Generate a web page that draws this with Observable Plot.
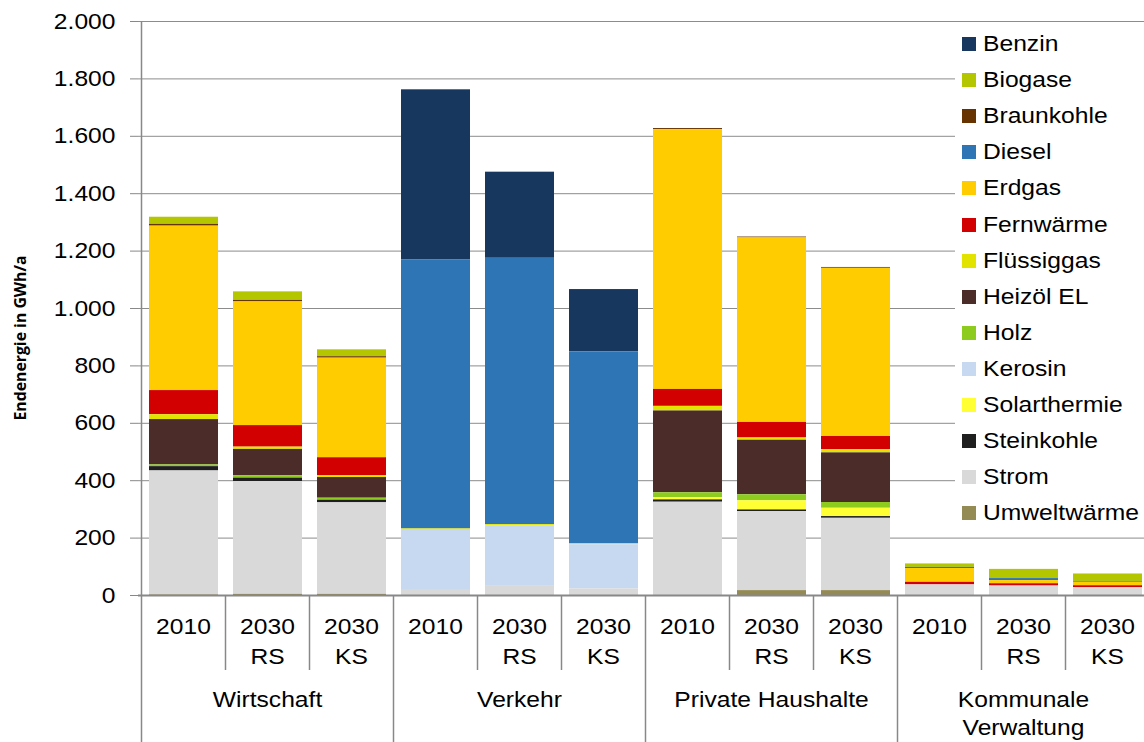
<!DOCTYPE html>
<html><head><meta charset="utf-8">
<script src="https://cdn.jsdelivr.net/npm/d3@7"></script>
<script src="https://cdn.jsdelivr.net/npm/@observablehq/plot@0.6"></script>
<style>
html,body{margin:0;padding:0;background:#fff;overflow:hidden;width:1144px;height:742px}
#wrap{position:relative;width:1144px;height:742px;overflow:hidden}
#chart svg{max-width:none !important}
#legend{position:absolute;left:955px;top:24px;width:200px;height:508px;background:#fff;font-family:"Liberation Sans",Arial,sans-serif;font-size:22px;color:#000}
.item{position:absolute;left:0;height:36px;line-height:36px;white-space:nowrap}
.sw{position:absolute;left:7px;top:11px;width:14px;height:14px}
.lbl{position:absolute;left:28px;top:0;transform:scaleX(1.12);transform-origin:0 50%}
#ytitle{position:absolute;left:20px;top:338px;transform:translate(-50%,-50%) rotate(-90deg);font-family:"Open Sans",sans-serif;font-weight:700;font-size:15.8px;white-space:nowrap;color:#000}
</style>
</head><body>
<div id="wrap"><div id="chart"></div><div id="legend"></div><div id="ytitle"></div></div>
<script>
// categories (x)
const categories = ["W2010","WRS","WKS","V2010","VRS","VKS","P2010","PRS","PKS","K2010","KRS","KKS"];
const yearLabels = ["2010","2030\nRS","2030\nKS","2010","2030\nRS","2030\nKS","2010","2030\nRS","2030\nKS","2010","2030\nRS","2030\nKS"];
const groupLabels = ["Wirtschaft","Verkehr","Private Haushalte","Kommunale\nVerwaltung"];
const yTicks = [0,200,400,600,800,1000,1200,1400,1600,1800,2000];
const yTitle = "Endenergie in GWh/a";

// legend order (top to bottom)
const carriers = ["Benzin","Biogase","Braunkohle","Diesel","Erdgas","Fernwärme","Flüssiggas","Heizöl EL","Holz","Kerosin","Solarthermie","Steinkohle","Strom","Umweltwärme"];
const colors = ["#17375E","#B3C600","#663300","#2E75B6","#FFCC00","#D20000","#E3E300","#4B2C28","#8DCC1E","#C6D9F0","#FFFF33","#1F1F1F","#D9D9D9","#948A54"];

// values in GWh/a, per category (same order as categories)
const benzin      = [0,0,0, 592,300,217, 0,0,0, 0,0,0];
const biogase     = [25,30,24, 0,0,0, 0,0,0, 12,32,26];
const braunkohle  = [6,5,5, 0,0,0, 4,3,3, 0,0,0];
const diesel      = [0,0,0, 938,928,669, 0,0,0, 4,7,3];
const erdgas      = [573,431,347, 0,0,0, 905,643,586, 48,11,12];
const fernwaerme  = [84,75,62, 0,0,0, 59,54,46, 9,8,7];
const fluessiggas = [17,8,7, 2,5,3, 16,8,11, 0,0,0];
const heizoel     = [158,92,72, 0,0,0, 285,190,173, 0,0,0];
const holz        = [6,8,7, 0,0,0, 17,21,20, 0,0,0];
const kerosin     = [0,0,0, 209,210,154, 0,0,0, 0,0,0];
const solar       = [0,0,0, 0,0,0, 8,32,29, 0,0,0];
const steinkohle  = [15,12,9, 0,0,0, 8,6,6, 0,0,0];
const strom       = [432,393,319, 21,32,23, 325,275,252, 37,33,27];
const umwelt      = [2,4,4, 0,0,0, 0,17,17, 0,0,0];

const series = [benzin,biogase,braunkohle,diesel,erdgas,fernwaerme,fluessiggas,heizoel,holz,kerosin,solar,steinkohle,strom,umwelt];
const rows = [];
carriers.forEach((c, j) => categories.forEach((cat, i) => rows.push({cat, carrier: c, value: series[j][i]})));
const stackOrder = carriers.slice().reverse();

const fmt = d => d3.format(",")(d).replace(/,/g, ".");

const separators = (index, scales, values, dims) => {
  const x = scales.x;
  const bw = x.bandwidth ? x.bandwidth() : (dims.width - dims.marginLeft - dims.marginRight) / categories.length;
  const y0 = scales.y(0);
  const g = d3.create("svg:g").attr("stroke", "#888").attr("stroke-width", 1.5).attr("fill", "none");
  categories.forEach((c, i) => {
    const px = Math.round(x(c)) + 0.5;
    const isGroup = i % 3 === 0;
    g.append("line").attr("x1", px).attr("x2", px)
      .attr("y1", i === 0 ? dims.marginTop : y0)
      .attr("y2", isGroup ? dims.height : y0 + 75);
  });
  const pr = x(categories[categories.length - 1]) + bw - 1;
  g.append("line").attr("x1", pr).attr("x2", pr).attr("y1", y0).attr("y2", dims.height);
  return g.node();
};

const chart = Plot.plot({
  width: 1152, height: 742,
  marginTop: 21, marginBottom: 147, marginLeft: 138, marginRight: 0,
  style: {fontFamily: "'Liberation Sans', Arial, sans-serif", fontSize: "22px", background: "transparent", color: "#000", overflow: "visible", maxWidth: "none"},
  x: {domain: categories, padding: 0, axis: null},
  y: {domain: [0, 2000], axis: null},
  color: {domain: carriers, range: colors},
  marks: [
    Plot.gridY(yTicks, {stroke: "#8c8c8c", strokeOpacity: 1, strokeWidth: 1}),
    Plot.barY(rows, {x: "cat", y: "value", fill: "carrier", z: "carrier", order: stackOrder, insetLeft: 8, insetRight: 7}),
    Plot.axisY(yTicks, {tickSize: 8, tickPadding: 15, tickFormat: fmt, stroke: "#888", fill: "#000", fontSize: 22, label: null}),
    Plot.ruleY([0], {stroke: "#888", strokeWidth: 2}),
    separators,
    Plot.text(categories, {x: d => d, text: (d, i) => yearLabels[i], frameAnchor: "bottom", lineAnchor: "top", dy: 17, lineHeight: 1.36, fontSize: 22, fill: "#000"}),
    Plot.text(groupLabels, {x: (d, i) => categories[i * 3 + 1], text: d => d, frameAnchor: "bottom", lineAnchor: "top", dy: 92, lineHeight: 1.27, fontSize: 22, fill: "#000"})
  ]
});
// the reference text is horizontally wider than the font: widen glyphs about each anchor
chart.querySelectorAll("text").forEach(el => {
  const t = el.getAttribute("transform") || "";
  el.setAttribute("transform", (t + " scale(1.12,1)").trim());
});
document.getElementById("chart").appendChild(chart);
document.getElementById("ytitle").textContent = yTitle;

// legend
const leg = document.getElementById("legend");
carriers.forEach((c, i) => {
  const it = document.createElement("div");
  it.className = "item";
  it.style.top = (2 + 36.1 * i) + "px";
  const sw = document.createElement("div");
  sw.className = "sw";
  sw.style.background = colors[i];
  const lb = document.createElement("span");
  lb.className = "lbl";
  lb.textContent = c;
  it.appendChild(sw); it.appendChild(lb);
  leg.appendChild(it);
});
</script>
</body></html>
